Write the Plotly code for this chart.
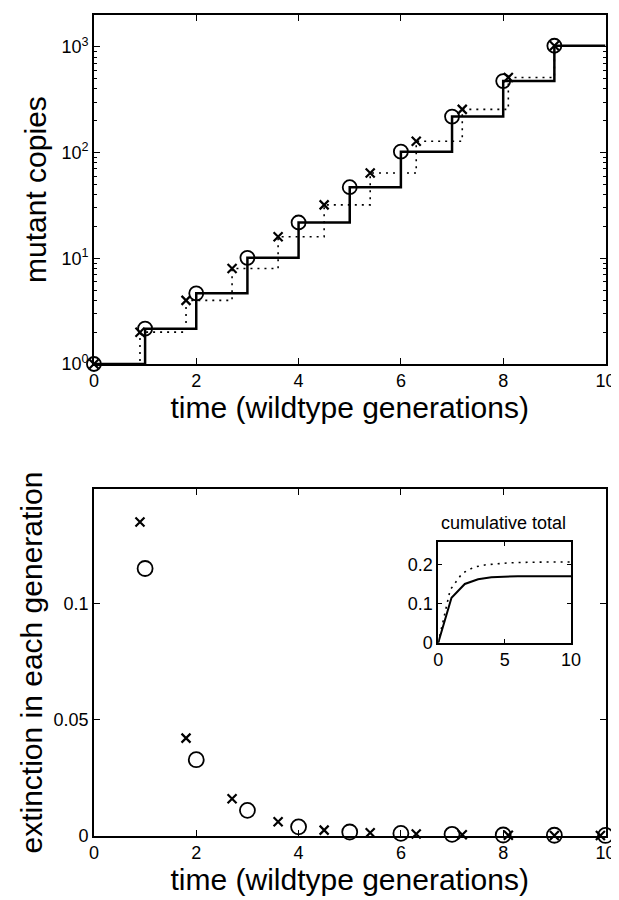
import plotly.graph_objects as go

# ---------------- data ----------------
# top panel: mutant copies over time
t_circle = [0, 1, 2, 3, 4, 5, 6, 7, 8, 9]
copies_circle = [1, 2.16, 4.66, 10.1, 21.8, 47, 102, 219, 474, 1024]
t_cross = [0, 0.9, 1.8, 2.7, 3.6, 4.5, 5.4, 6.3, 7.2, 8.1, 9.0]
copies_cross = [1, 2, 4, 8, 16, 32, 64, 128, 256, 512, 1024]
t_max = 10

# bottom panel: extinction in each generation
t_ext_circle = [1, 2, 3, 4, 5, 6, 7, 8, 9, 10]
ext_circle = [0.115, 0.0327, 0.0109, 0.0038, 0.0016, 0.0010, 0.0006, 0.0003, 0.0002, 0.0001]
t_ext_cross = [0.9, 1.8, 2.7, 3.6, 4.5, 5.4, 6.3, 7.2, 8.1, 9.0, 9.9]
ext_cross = [0.135, 0.042, 0.0159, 0.006, 0.0024, 0.0013, 0.0007, 0.0004, 0.0002, 0.0001, 0.0001]

# inset: cumulative total
t_cum_solid = [0, 1, 2, 3, 4, 5, 6, 7, 8, 9, 10]
cum_solid = [0, 0.115, 0.150, 0.162, 0.167, 0.169, 0.170, 0.170, 0.170, 0.170, 0.170]
t_cum_dot = [0, 0.9, 1.8, 2.7, 3.6, 4.5, 5.4, 6.3, 7.2, 8.1, 9.0, 9.9, 10]
cum_dot = [0, 0.135, 0.177, 0.193, 0.199, 0.202, 0.204, 0.205, 0.206, 0.206, 0.206, 0.206, 0.206]

top_yticks = [1, 10, 100, 1000]
top_yticktext = ["10<sup>0</sup>", "10<sup>1</sup>", "10<sup>2</sup>", "10<sup>3</sup>"]
top_minor = [m * d for d in (1, 10, 100, 1000) for m in range(2, 10)]
x_ticks = [0, 2, 4, 6, 8, 10]
bot_yticks = [0, 0.05, 0.1]
bot_yticktext = ["0", "0.05", "0.1"]
inset_xticks = [0, 5, 10]
inset_yticks = [0, 0.1, 0.2]
inset_yticktext = ["0", "0.1", "0.2"]

# ---------------- figure ----------------
BLACK = "black"
FONT = "Liberation Sans, Arial, Helvetica, sans-serif"
DOTS = "2px,5px"

fig = go.Figure()

# top panel
fig.add_trace(go.Scatter(x=t_cross, y=copies_cross, mode="lines", line_shape="hv",
                         line=dict(color=BLACK, width=1.6, dash=DOTS),
                         xaxis="x", yaxis="y", showlegend=False))
fig.add_trace(go.Scatter(x=t_circle + [t_max], y=copies_circle + [copies_circle[-1]],
                         mode="lines", line_shape="hv",
                         line=dict(color=BLACK, width=2.5),
                         xaxis="x", yaxis="y", showlegend=False))
fig.add_trace(go.Scatter(x=t_cross, y=copies_cross, mode="markers", cliponaxis=False,
                         marker=dict(symbol="x-thin", size=9, line=dict(color=BLACK, width=2.2)),
                         xaxis="x", yaxis="y", showlegend=False))
fig.add_trace(go.Scatter(x=t_circle, y=copies_circle, mode="markers", cliponaxis=False,
                         marker=dict(symbol="circle-open", size=14, color=BLACK, line=dict(width=1.8)),
                         xaxis="x", yaxis="y", showlegend=False))

# bottom panel
fig.add_trace(go.Scatter(x=t_ext_cross, y=ext_cross, mode="markers", cliponaxis=False,
                         marker=dict(symbol="x-thin", size=9, line=dict(color=BLACK, width=2.2)),
                         xaxis="x2", yaxis="y2", showlegend=False))
fig.add_trace(go.Scatter(x=t_ext_circle, y=ext_circle, mode="markers", cliponaxis=False,
                         marker=dict(symbol="circle-open", size=15, color=BLACK, line=dict(width=1.8)),
                         xaxis="x2", yaxis="y2", showlegend=False))

# inset
fig.add_trace(go.Scatter(x=t_cum_dot, y=cum_dot, mode="lines",
                         line=dict(color=BLACK, width=1.6, dash=DOTS),
                         xaxis="x3", yaxis="y3", showlegend=False))
fig.add_trace(go.Scatter(x=t_cum_solid, y=cum_solid, mode="lines",
                         line=dict(color=BLACK, width=2),
                         xaxis="x3", yaxis="y3", showlegend=False))

axis_common = dict(showline=True, linecolor=BLACK, linewidth=1.5, mirror="ticks",
                   ticks="inside", ticklen=6, tickcolor=BLACK, tickwidth=1.2,
                   showgrid=False, zeroline=False,
                   tickfont=dict(family=FONT, size=18, color=BLACK))
title_font = dict(family=FONT, size=30, color=BLACK)

fig.update_layout(
    width=619, height=900,
    margin=dict(l=0, r=0, t=0, b=0),
    paper_bgcolor="white", plot_bgcolor="white",
    xaxis=dict(domain=[0.134, 0.981], anchor="y", range=[0, 10], tickvals=x_ticks,
               title=dict(text="time (wildtype generations)", font=title_font, standoff=0),
               **axis_common),
    yaxis=dict(domain=[0.6, 0.992], anchor="x", type="log", range=[0, 3.3],
               tickvals=top_yticks, ticktext=top_yticktext,
               minor=dict(tickvals=top_minor, ticks="inside", ticklen=3, tickcolor=BLACK),
               title=dict(text="mutant copies", font=title_font, standoff=6),
               **axis_common),
    xaxis2=dict(domain=[0.134, 0.981], anchor="y2", range=[0, 10], tickvals=x_ticks,
                title=dict(text="time (wildtype generations)", font=title_font, standoff=0),
                **axis_common),
    yaxis2=dict(domain=[0.07, 0.459], anchor="x2", range=[0, 0.149],
                tickvals=bot_yticks, ticktext=bot_yticktext,
                title=dict(text="extinction in each generation", font=title_font, standoff=2),
                **axis_common),
    xaxis3=dict(domain=[0.704, 0.924], anchor="y3", range=[0, 10], tickvals=inset_xticks,
                **{**axis_common, "ticklen": 4}),
    yaxis3=dict(domain=[0.2867, 0.4], anchor="x3", range=[0, 0.257],
                tickvals=inset_yticks, ticktext=inset_yticktext,
                **{**axis_common, "ticklen": 4}),
    annotations=[dict(text="cumulative total", x=0.8126, y=0.4, xref="paper", yref="paper",
                      xanchor="center", yanchor="bottom", yshift=7, showarrow=False,
                      font=dict(family=FONT, size=18, color=BLACK))],
)

fig.write_html("out.html")
